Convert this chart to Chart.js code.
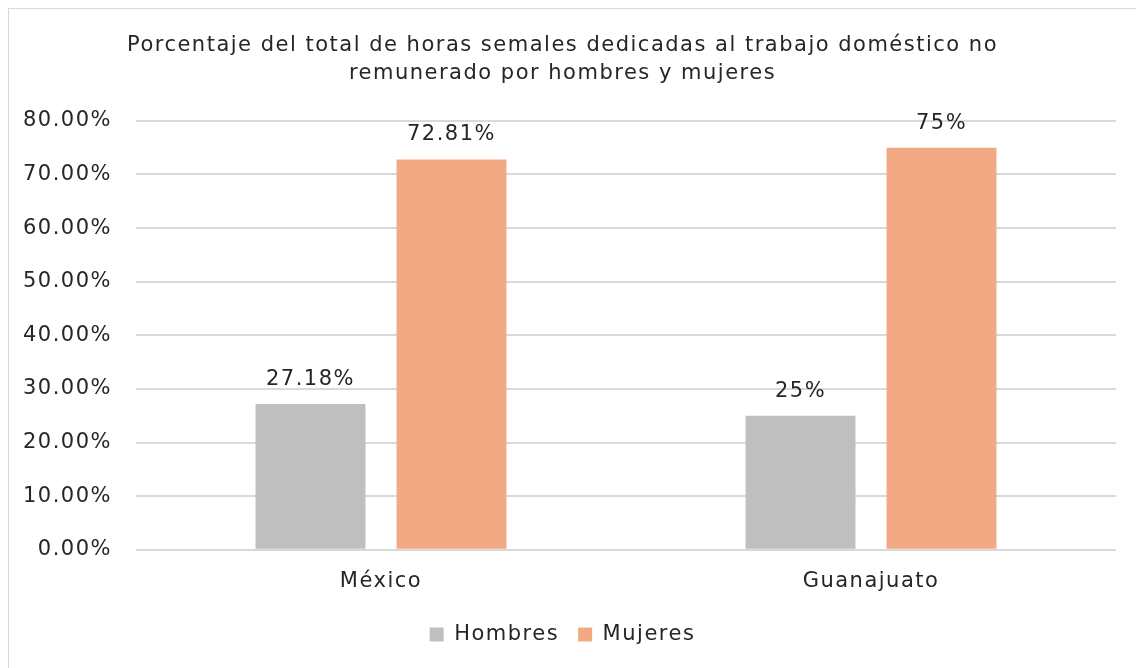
<!DOCTYPE html>
<html>
<head>
<meta charset="utf-8">
<script src="https://cdn.jsdelivr.net/npm/chart.js@4"></script>
<style>
	body { margin: 0; background: #fff; overflow: hidden; }
	#frame { position: absolute; left: 8px; top: 8px; width: 1140px; height: 670px; border: 1px solid #d9d9d9; box-sizing: border-box; }
	#wrap { position: absolute; left: 9px; top: 9px; width: 1128px; height: 660px; }
</style>
</head>
<body>
<div id="frame"></div>
<div id="wrap"><canvas id="bars-chart"></canvas></div>
<script>
var categories = ['México', 'Guanajuato'];
var hombresData = [27.18, 25];
var mujeresData = [72.81, 75];
var hombresLabels = ['27.18%', '25%'];
var mujeresLabels = ['72.81%', '75%'];
var yTicks = [0, 10, 20, 30, 40, 50, 60, 70, 80];

var fontName = '"DejaVu Sans", sans-serif';
var textColor = '#262626';
var spacing = '1.5px';

// wider lettering, closer to the original typeface
const letterSpacing = {
	id: 'letterSpacing',
	beforeLayout(chart) { chart.ctx.letterSpacing = spacing; },
	beforeDraw(chart) { chart.ctx.letterSpacing = spacing; }
};

// draws the value text above each bar
const valueLabels = {
	id: 'valueLabels',
	afterDatasetsDraw(chart) {
		const ctx = chart.ctx;
		ctx.save();
		ctx.font = '21px ' + fontName;
		ctx.fillStyle = textColor;
		ctx.textAlign = 'center';
		ctx.textBaseline = 'bottom';
		chart.data.datasets.forEach(function (ds, i) {
			chart.getDatasetMeta(i).data.forEach(function (bar, j) {
				ctx.fillText(ds.valueText[j], bar.x, bar.y - 14);
			});
		});
		ctx.restore();
	}
};

const barsChart = document.getElementById('bars-chart');
new Chart(barsChart, {
	type: 'bar',
	data: {
		labels: categories,
		datasets: [{
			label: 'Hombres',
			data: hombresData,
			valueText: hombresLabels,
			backgroundColor: '#bfbfbf',
			categoryPercentage: 0.5755,
			barPercentage: 0.78
		}, {
			label: 'Mujeres',
			data: mujeresData,
			valueText: mujeresLabels,
			backgroundColor: '#f2aa84',
			categoryPercentage: 0.5755,
			barPercentage: 0.78
		}]
	},
	options: {
		responsive: true,
		maintainAspectRatio: false,
		animation: false,
		layout: { padding: { left: 0, right: 21, top: 0, bottom: 14 } },
		plugins: {
			title: {
				display: true,
				text: ['Porcentaje del total de horas semales dedicadas al trabajo doméstico no', 'remunerado por hombres y mujeres'],
				color: textColor,
				font: { family: fontName, size: 21, weight: 'normal', lineHeight: 1.33 },
				padding: { top: 23, bottom: 33 }
			},
			legend: {
				position: 'bottom',
				labels: {
					color: textColor,
					font: { family: fontName, size: 21 },
					boxWidth: 14,
					boxHeight: 14,
					padding: 19
				}
			},
			tooltip: { enabled: false }
		},
		scales: {
			x: {
				grid: { display: false },
				border: { display: false },
				ticks: { color: textColor, font: { family: fontName, size: 21 }, padding: 11 }
			},
			y: {
				min: 0,
				max: 80,
				afterBuildTicks: function (scale) {
					scale.ticks = yTicks.map(function (v) { return { value: v }; });
				},
				afterFit: function (scale) { scale.width = 127; },
				grid: { color: '#d9d9d9', lineWidth: 2, drawTicks: false },
				border: { display: false },
				ticks: {
					color: textColor,
					font: { family: fontName, size: 21 },
					padding: 24,
					callback: function (v) { return v.toFixed(2) + '%'; }
				}
			}
		}
	},
	plugins: [letterSpacing, valueLabels]
});
</script>
</body>
</html>
